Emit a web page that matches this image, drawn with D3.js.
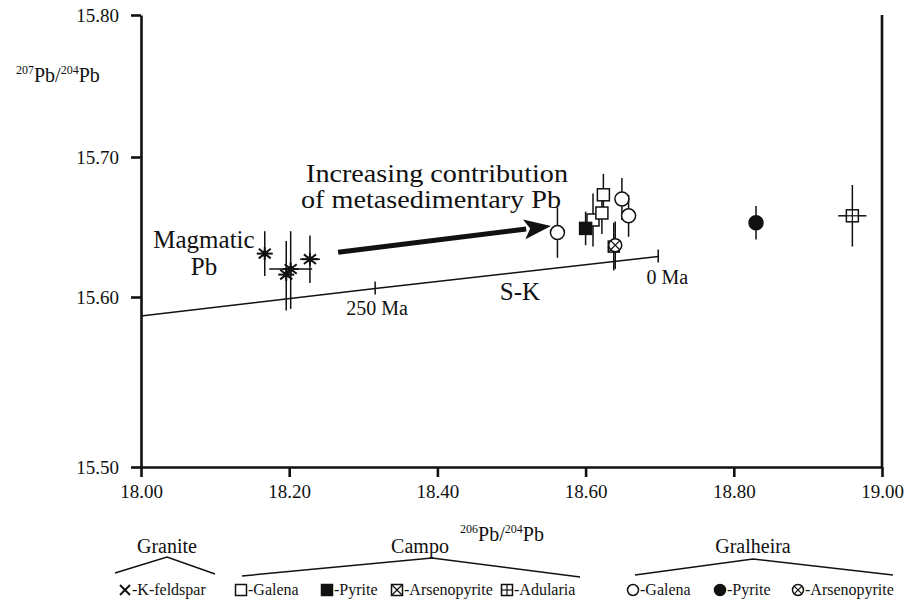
<!DOCTYPE html>
<html>
<head>
<meta charset="utf-8">
<script src="https://cdn.jsdelivr.net/npm/d3@7"></script>
<style>
  body { margin: 0; background: #fff; }
  text { font-family: "Liberation Serif", "Times New Roman", serif; fill: #111; }
</style>
</head>
<body>
<div id="chart"></div>
<script>
// ---- data ----
const xTicks = [18.0, 18.2, 18.4, 18.6, 18.8, 19.0];
const yTicks = [15.5, 15.6, 15.7, 15.8];

// [206Pb/204Pb, 207Pb/204Pb, err x, err y]
const kFeldspar = [[18.167, 15.631, 0, 0.016], [18.196, 15.616, 0, 0.024], [18.202, 15.620, 0.029, 0.027], [18.228, 15.627, 0.0135, 0.017]];
const campoGalena = [[18.610, 15.655, 0, 0.019], [18.622, 15.660, 0, 0.015], [18.624, 15.673, 0, 0.015]];
const campoPyrite = [[18.600, 15.649, 0, 0.012]];
const campoArsenopyrite = [[18.638, 15.636, 0.008, 0.017]];
const adularia = [[18.960, 15.658, 0.019, 0.022]];
const gralGalena = [[18.562, 15.646, 0, 0.018], [18.649, 15.670, 0.009, 0.015], [18.658, 15.658, 0.009, 0.015]];
const gralPyrite = [[18.830, 15.653, 0, 0.012]];
const gralArsenopyrite = [[18.640, 15.637, 0.009, 0.017]];

// Stacey-Kramers growth curve
const skCurve = [[18.0, 15.5888], [18.316, 15.6061], [18.698, 15.6289]];
const skAges = [['250 Ma', 18.316, 15.6061], ['0 Ma', 18.698, 15.6289]];

const legendGroups = [
  { name: 'Granite', items: [['xmark', '-K-feldspar']] },
  { name: 'Campo', items: [['square', '-Galena'], ['squareFill', '-Pyrite'], ['squareX', '-Arsenopyrite'], ['squarePlus', '-Adularia']] },
  { name: 'Gralheira', items: [['circle', '-Galena'], ['circleFill', '-Pyrite'], ['circleX', '-Arsenopyrite']] },
];

// ---- layout ----
const W = 911, H = 600;
const x = d3.scaleLinear().domain([18, 19]).range([141, 882]);
// the scan is slightly uneven, so one segment per tick interval
const y = d3.scaleLinear().domain(yTicks).range([467, 297, 157, 15]);

const svg = d3.select('#chart').append('svg')
  .attr('width', W)
  .attr('height', H);

function drawSymbol(g, type, size) {
  const h = size / 2;
  const line = (x1, y1, x2, y2, w) => g.append('line')
    .attr('x1', x1).attr('y1', y1).attr('x2', x2).attr('y2', y2)
    .attr('stroke', '#111').attr('stroke-width', w || 1.5);
  if (type === 'asterisk') {
    line(-h, 0, h, 0, 2);
    line(0, -h * 0.8, 0, h * 0.8, 2);
    line(-h * 0.75, -h * 0.6, h * 0.75, h * 0.6, 2);
    line(-h * 0.75, h * 0.6, h * 0.75, -h * 0.6, 2);
    g.append('circle').attr('r', 3).attr('fill', '#111');
    return;
  }
  if (type === 'xmark') {
    line(-h, -h, h, h, 2);
    line(-h, h, h, -h, 2);
    return;
  }
  const isSq = type.startsWith('square');
  const shape = isSq
    ? g.append('rect').attr('x', -h).attr('y', -h).attr('width', size).attr('height', size)
    : g.append('circle').attr('r', h);
  shape.attr('fill', type.endsWith('Fill') ? '#111' : '#fff')
    .attr('stroke', '#111').attr('stroke-width', 1.5);
  if (type.endsWith('X')) {
    const k = isSq ? h : h * 0.7;
    line(-k, -k, k, k, 1.2);
    line(-k, k, k, -k, 1.2);
  }
  if (type.endsWith('Plus')) {
    line(-h, 0, h, 0, 1.2);
    line(0, -h, 0, h, 1.2);
  }
}

// ---- axes ----
const yAxis = d3.axisLeft(y).tickValues(yTicks).tickFormat(d3.format('.2f'))
  .tickSize(10).tickSizeOuter(0).tickPadding(12);
const xAxis = d3.axisBottom(x).tickValues(xTicks).tickFormat(d3.format('.2f'))
  .tickSize(10).tickSizeOuter(0).tickPadding(8);

const gy = svg.append('g').attr('transform', `translate(${x(18)},0)`).call(yAxis);
const gx = svg.append('g').attr('transform', `translate(0,${y(15.5)})`).call(xAxis);
[gx, gy].forEach(g => {
  g.attr('font-family', null);
  g.select('.domain').attr('stroke', '#111').attr('stroke-width', 2.6);
  g.selectAll('.tick line').attr('stroke', '#111').attr('stroke-width', 2.6);
  g.selectAll('.tick text').attr('font-size', 19).attr('fill', '#111');
});
// right frame
svg.append('line')
  .attr('x1', x(19)).attr('x2', x(19))
  .attr('y1', y(15.8)).attr('y2', y(15.5))
  .attr('stroke', '#111').attr('stroke-width', 2.6);

// axis titles with superscripts
function isoLabel(sel, a, b, size) {
  const sup = Math.round(size * 0.62);
  sel.append('tspan').attr('font-size', sup).attr('dy', -size * 0.42).text(a);
  sel.append('tspan').attr('font-size', size).attr('dy', size * 0.42).text('Pb/');
  sel.append('tspan').attr('font-size', sup).attr('dy', -size * 0.42).text(b);
  sel.append('tspan').attr('font-size', size).attr('dy', size * 0.42).text('Pb');
}
svg.append('text').attr('x', 16).attr('y', 82).call(isoLabel, '207', '204', 20);
svg.append('text').attr('x', 502).attr('y', 541).attr('text-anchor', 'middle')
  .call(isoLabel, '206', '204', 20);

// ---- S-K curve ----
svg.append('path')
  .datum(skCurve)
  .attr('d', d3.line().x(d => x(d[0])).y(d => y(d[1])))
  .attr('fill', 'none').attr('stroke', '#111').attr('stroke-width', 1.5);
svg.selectAll('.age-tick')
  .data(skAges)
  .enter()
  .append('line')
  .attr('x1', d => x(d[1])).attr('x2', d => x(d[1]))
  .attr('y1', d => y(d[2]) - 7).attr('y2', d => y(d[2]) + 6)
  .attr('stroke', '#111').attr('stroke-width', 1.5);
svg.selectAll('.age-label')
  .data(skAges)
  .enter()
  .append('text')
  .attr('x', d => x(d[1]) + (d[0] === '0 Ma' ? 9 : 2))
  .attr('y', d => y(d[2]) + 27)
  .attr('text-anchor', 'middle')
  .attr('font-size', 20)
  .text(d => d[0]);

// ---- annotations ----
svg.append('text').attr('x', x(18.5115)).attr('y', y(15.5982)).attr('text-anchor', 'middle')
  .attr('font-size', 25).text('S-K');
svg.append('text').attr('x', x(18.085)).attr('y', y(15.635)).attr('text-anchor', 'middle')
  .attr('font-size', 25).text('Magmatic');
svg.append('text').attr('x', x(18.085)).attr('y', y(15.6157)).attr('text-anchor', 'middle')
  .attr('font-size', 25).text('Pb');
svg.append('text').attr('x', x(18.3995)).attr('y', y(15.682)).attr('text-anchor', 'middle')
  .attr('font-size', 25).attr('textLength', 262).attr('lengthAdjust', 'spacingAndGlyphs')
  .text('Increasing contribution');
svg.append('text').attr('x', x(18.3995) - 6).attr('y', y(15.6635)).attr('text-anchor', 'middle')
  .attr('font-size', 25).attr('textLength', 260).attr('lengthAdjust', 'spacingAndGlyphs')
  .text('of metasedimentary Pb');

// arrow
const a0 = [x(18.266), y(15.632)];
const a1 = [x(18.5533), y(15.6507)];
const ang = Math.atan2(a1[1] - a0[1], a1[0] - a0[0]);
const headLen = 27, headW = 10;
const base = [a1[0] - headLen * Math.cos(ang), a1[1] - headLen * Math.sin(ang)];
svg.append('line')
  .attr('x1', a0[0]).attr('y1', a0[1]).attr('x2', base[0] + 2 * Math.cos(ang)).attr('y2', base[1] + 2 * Math.sin(ang))
  .attr('stroke', '#111').attr('stroke-width', 5);
svg.append('path')
  .attr('d', d3.line()([
    a1,
    [base[0] + headW * Math.sin(ang), base[1] - headW * Math.cos(ang)],
    [base[0] + 6 * Math.cos(ang), base[1] + 6 * Math.sin(ang)],
    [base[0] - headW * Math.sin(ang), base[1] + headW * Math.cos(ang)],
  ]) + 'Z')
  .attr('fill', '#111');

// ---- data points ----
const series = [
  { data: kFeldspar, symbol: 'asterisk', size: 16 },
  { data: campoGalena, symbol: 'square', size: 12 },
  { data: campoPyrite, symbol: 'squareFill', size: 12 },
  { data: campoArsenopyrite, symbol: 'squareX', size: 11 },
  { data: adularia, symbol: 'squarePlus', size: 12 },
  { data: gralGalena, symbol: 'circle', size: 14 },
  { data: gralPyrite, symbol: 'circleFill', size: 14 },
  { data: gralArsenopyrite, symbol: 'circleX', size: 13 },
];
const pts = series.flatMap(s => s.data.map(d => ({ d, symbol: s.symbol, size: s.size })));

const bars = svg.append('g').attr('stroke', '#111').attr('stroke-width', 1.5);
pts.forEach(({ d }) => {
  if (d[3]) {
    bars.append('line').attr('x1', x(d[0])).attr('x2', x(d[0]))
      .attr('y1', y(d[1] - d[3])).attr('y2', y(d[1] + d[3]));
  }
  if (d[2]) {
    bars.append('line').attr('y1', y(d[1])).attr('y2', y(d[1]))
      .attr('x1', x(d[0] - d[2])).attr('x2', x(d[0] + d[2]));
  }
});
svg.append('g')
  .selectAll('g')
  .data(pts)
  .enter()
  .append('g')
  .attr('transform', p => `translate(${x(p.d[0])},${y(p.d[1])})`)
  .each(function (p) { drawSymbol(d3.select(this), p.symbol, p.size); });

// ---- legend ----
const groupLayout = [
  { tent: [[115, 573], [167, 557], [215, 574]], title: 167, items: [125] },
  { tent: [[242, 576], [432, 558], [580, 577]], title: 420, items: [241, 327, 397, 507] },
  { tent: [[635, 575], [753, 559], [893, 575]], title: 753, items: [633, 720, 798] },
];
const legend = svg.append('g');
legendGroups.forEach((grp, i) => {
  const lay = groupLayout[i];
  legend.append('text').attr('x', lay.title).attr('y', 553).attr('text-anchor', 'middle')
    .attr('font-size', 20).text(grp.name);
  legend.append('path').attr('d', d3.line()(lay.tent))
    .attr('fill', 'none').attr('stroke', '#111').attr('stroke-width', 1.5);
  grp.items.forEach(([sym, label], j) => {
    const gx0 = lay.items[j];
    const g = legend.append('g').attr('transform', `translate(${gx0},590)`);
    drawSymbol(g, sym, sym === 'xmark' ? 10 : 11);
    legend.append('text').attr('x', gx0 + 7).attr('y', 595).attr('font-size', 16).text(label);
  });
});
</script>
</body>
</html>
